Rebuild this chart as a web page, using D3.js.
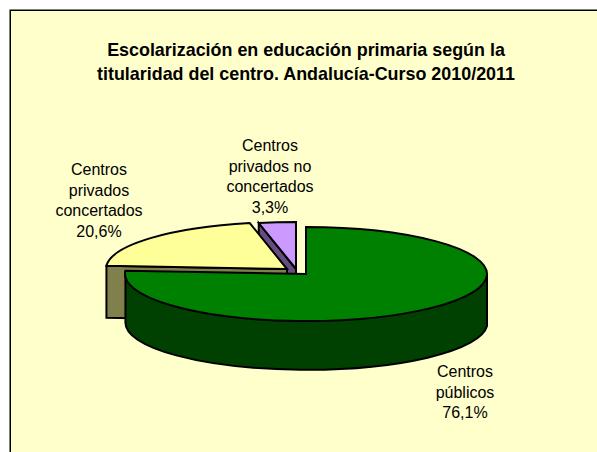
<!DOCTYPE html>
<html>
<head>
<meta charset="utf-8">
<script src="https://cdnjs.cloudflare.com/ajax/libs/d3/7.8.5/d3.min.js"></script>
<style>
html, body { margin: 0; padding: 0; background: #fff; }
svg { display: block; }
text { font-family: "Liberation Sans", Arial, sans-serif; fill: #000; }
</style>
</head>
<body>
<svg width="597" height="452"></svg>
<script>
// chart values
var categories = ['Centros públicos', 'Centros privados concertados', 'Centros privados no concertados'];
var values = [76.1, 20.6, 3.3];
var valueLabels = ['76,1%', '20,6%', '3,3%'];
var titleLines = ['Escolarización en educación primaria según la', 'titularidad del centro. Andalucía-Curso 2010/2011'];

// wrapped label lines, same order as categories
var labelLines = [['Centros', 'públicos'], ['Centros', 'privados', 'concertados'], ['Centros', 'privados no', 'concertados']];

var svg = d3.select('svg');

// layout of the 3d pie, each slice has its own exploded center
var rx = 181, ry = 47, depth = 52;
var centers = [{x: 306, y: 274}, {x: 287, y: 269}, {x: 296, y: 269}];
var labelPos = [{x: 465, y: 377}, {x: 99, y: 175}, {x: 270, y: 151}];
var topColors = ['#008000', '#ffff99', '#cc99ff'];
var wallColors = ['#004000', '#80804d', '#664d80'];
var lineH = 20.6;

svg.append('rect')
    .attr('x', 10.25).attr('y', 10.25)
    .attr('width', 600).attr('height', 460)
    .attr('fill', '#ffffcc')
    .attr('stroke', '#000')
    .attr('stroke-width', 1.5);

svg.selectAll('.title')
    .data(titleLines)
    .enter()
    .append('text')
    .attr('class', 'title')
    .attr('x', 306)
    .attr('y', (d, i) => 56 + i * 24)
    .attr('text-anchor', 'middle')
    .style('font-size', '17.9px')
    .style('font-weight', 'bold')
    .text(d => d);

var slices = d3.pie().sort(null).value(d => d)(values);

// point on the ellipse, angle clockwise from the top like d3.pie
function pt(c, a, dy) {
    return [c.x + rx * Math.sin(a), c.y - ry * Math.cos(a) + (dy || 0)];
}

function topPath(s, c) {
    var p0 = pt(c, s.startAngle), p1 = pt(c, s.endAngle);
    var large = s.endAngle - s.startAngle > Math.PI ? 1 : 0;
    return 'M' + [c.x, c.y] + 'L' + p0 + 'A' + [rx, ry, 0, large, 1] + ' ' + p1 + 'Z';
}

// flat side left by the cut at the start of the slice
function cutWall(s, c) {
    var p = pt(c, s.startAngle), q = pt(c, s.startAngle, depth);
    return 'M' + [c.x, c.y] + 'L' + p + 'L' + q + 'L' + [c.x, c.y + depth] + 'Z';
}

// outer rim, only the part facing the viewer
function rimPath(s, c) {
    var a0 = Math.PI / 2, a1 = s.endAngle;
    var p0 = pt(c, a0), p1 = pt(c, a1), q1 = pt(c, a1, depth), q0 = pt(c, a0, depth);
    return 'M' + p0 + 'A' + [rx, ry, 0, 0, 1] + ' ' + p1 + 'L' + q1 + 'A' + [rx, ry, 0, 0, 0] + ' ' + q0 + 'Z';
}

var pieG = svg.append('g')
    .attr('stroke', '#000')
    .attr('stroke-width', 2)
    .attr('stroke-linejoin', 'miter');

// back to front: purple, yellow, then green
[2, 1].forEach(function(i) {
    pieG.append('path').attr('d', cutWall(slices[i], centers[i])).attr('fill', wallColors[i]);
    pieG.append('path').attr('d', topPath(slices[i], centers[i])).attr('fill', topColors[i]);
});

pieG.append('path').attr('d', rimPath(slices[0], centers[0])).attr('fill', wallColors[0]);
pieG.append('path').attr('d', topPath(slices[0], centers[0])).attr('fill', topColors[0]);

var labels = svg.selectAll('.label')
    .data(categories)
    .enter()
    .append('g')
    .attr('class', 'label')
    .attr('transform', (d, i) => 'translate(' + [labelPos[i].x, labelPos[i].y] + ')');

labels.selectAll('text')
    .data((d, i) => labelLines[i].concat(valueLabels[i]))
    .enter()
    .append('text')
    .attr('y', (d, i) => i * lineH)
    .attr('text-anchor', 'middle')
    .style('font-size', '16px')
    .text(d => d);
</script>
</body>
</html>
